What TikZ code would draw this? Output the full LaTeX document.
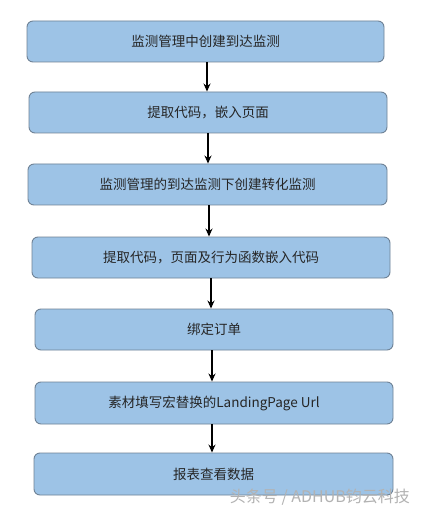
\documentclass[tikz,border=0pt]{standalone}
\usepackage{fontspec}
\setmainfont{Noto Sans CJK SC}
\usetikzlibrary{arrows.meta}
\definecolor{boxfill}{HTML}{9DC3E6}
\definecolor{boxline}{HTML}{6F8296}
\begin{document}
\begin{tikzpicture}[x=1pt,y=-1pt,
  stepbox/.style={draw=boxline,fill=boxfill,line width=0.9pt,rounded corners=6pt,inner sep=0pt,font=\fontsize{13.5}{16}\selectfont,text=black!85},
  flow/.style={-{Stealth[length=8pt,width=7pt]},line width=1.6pt,black}]
\useasboundingbox (0,0) rectangle (420,510);
\fill[white] (0,0) rectangle (420,510);
\node[stepbox,minimum width=357pt,minimum height=41pt] (b1) at (205.5,41.5) {监测管理中创建到达监测};
\node[stepbox,minimum width=358pt,minimum height=41pt] (b2) at (208,112.5) {提取代码，嵌入页面};
\node[stepbox,minimum width=359pt,minimum height=41pt] (b3) at (207.5,184.5) {监测管理的到达监测下创建转化监测};
\node[stepbox,minimum width=358pt,minimum height=41pt] (b4) at (211,257.5) {提取代码，页面及行为函数嵌入代码};
\node[stepbox,minimum width=358pt,minimum height=41pt] (b5) at (214,329.5) {绑定订单};
\node[stepbox,minimum width=358pt,minimum height=42pt] (b6) at (214,403) {素材填写宏替换的LandingPage Url};
\node[stepbox,minimum width=359pt,minimum height=42pt] (b7) at (213.5,474) {报表查看数据};
\draw[flow] (b1.south -| 207,0) -- (b2.north -| 207,0);
\draw[flow] (b2.south -| 208,0) -- (b3.north -| 208,0);
\draw[flow] (b3.south -| 209,0) -- (b4.north -| 209,0);
\draw[flow] (b4.south -| 211,0) -- (b5.north -| 211,0);
\draw[flow] (b5.south -| 212,0) -- (b6.north -| 212,0);
\draw[flow] (b6.south -| 212,0) -- (b7.north -| 212,0);
\node[font=\fontsize{16}{18}\selectfont,text=black!30,anchor=east,inner sep=0pt] (wm) at (410,497) {头条号 / ADHUB钧云科技};
\end{tikzpicture}
\end{document}
